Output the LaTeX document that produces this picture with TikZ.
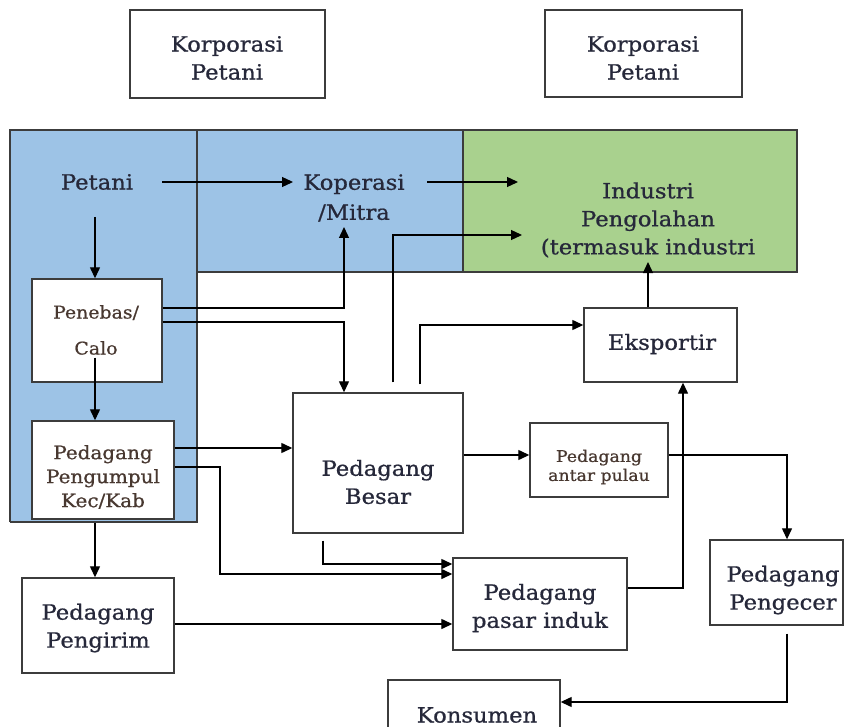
\documentclass[tikz,border=0pt]{standalone}
\usepackage{fontspec}
\setmainfont{DejaVu Serif}[FakeStretch=1.08, FakeBold=0.8]
\usetikzlibrary{arrows.meta}
\definecolor{bandblue}{RGB}{157,195,230}
\definecolor{bandgreen}{RGB}{169,209,142}
\definecolor{ink}{RGB}{38,40,58}
\definecolor{softink}{RGB}{72,56,48}
\definecolor{frame}{RGB}{60,60,60}
\tikzset{
  box/.style={draw=frame, line width=1.4pt, fill=white, inner sep=0pt},
  txt/.style={text=ink, align=center, inner sep=0pt},
  bigtxt/.style={txt, font=\fontsize{21}{28}\selectfont},
  smalltxt/.style={txt, text=softink, font=\fontsize{18.5}{24}\selectfont},
  arr/.style={draw=black, line width=1.3pt, -{Triangle[length=11pt,width=10pt]}},
}
\begin{document}
\begin{tikzpicture}[x=1pt,y=-1pt]
\useasboundingbox (0,0) rectangle (845,727);
\clip (0,0) rectangle (845,727);

% coloured bands
\fill[bandblue] (10,130) rectangle (197,522);
\fill[bandblue] (197,130) rectangle (463,272);
\fill[bandgreen] (463,130) rectangle (797,272);
\draw[frame, line width=1.8pt] (10,522) -- (10,130) -- (797,130) -- (797,272) -- (197,272);
\draw[frame, line width=1.8pt] (10,522) -- (197,522) -- (197,130);
\draw[frame, line width=1.8pt] (463,130) -- (463,272);

% boxes
\node[box, minimum width=195, minimum height=88] (kp1) at (227.5,54) {};
\node[box, minimum width=197, minimum height=87] (kp2) at (643.5,53.5) {};
\node[box, minimum width=130, minimum height=103] (penebas) at (97,330.5) {};
\node[box, minimum width=142, minimum height=98] (pengumpul) at (103,470) {};
\node[box, minimum width=152, minimum height=95] (pengirim) at (98,625.5) {};
\node[box, minimum width=170, minimum height=140] (besar) at (378,463) {};
\node[box, minimum width=138, minimum height=74] (antar) at (599,460) {};
\node[box, minimum width=153, minimum height=74] (ekspor) at (660.5,345) {};
\node[box, minimum width=174, minimum height=92] (pasar) at (540,604) {};
\node[box, minimum width=133, minimum height=85] (pengecer) at (776.5,582.5) {};
\node[box, minimum width=172, minimum height=70] (konsumen) at (474,715) {};

% texts
\node[bigtxt] (kp1T) at (227,58) {Korporasi\\Petani};
\node[bigtxt] (kp2T) at (643,58) {Korporasi\\Petani};
\node[bigtxt] (petaniT) at (97,182) {Petani};
\node[bigtxt, font=\fontsize{21}{30}\selectfont] (kopT) at (354,198) {Koperasi\\/Mitra};
\node[bigtxt] (indT) at (648,220) {Industri\\Pengolahan\\(termasuk industri};
\node[smalltxt, font=\fontsize{17.5}{36}\selectfont] (penebasT) at (96,330) {Penebas/\\Calo};
\node[smalltxt] (pengumpulT) at (103,477) {Pedagang\\Pengumpul\\Kec/Kab};
\node[bigtxt] (pengirimT) at (98,628) {Pedagang\\Pengirim};
\node[bigtxt] (besarT) at (378,482) {Pedagang\\Besar};
\node[smalltxt, font=\fontsize{16}{19}\selectfont] (antarT) at (599,467) {Pedagang\\antar pulau};
\node[bigtxt] (eksporT) at (662,344) {Eksportir};
\node[bigtxt] (pasarT) at (540,608) {Pedagang\\pasar induk};
\node[bigtxt] (pengecerT) at (783,590) {Pedagang\\Pengecer};
\node[bigtxt] (konsumenT) at (477,715) {Konsumen};

% connectors
\draw[arr] (petaniT -| 162,0) -- (petaniT -| 293,0);
\draw[arr] (petaniT -| 427,0) -- (petaniT -| 518,0);
\draw[arr] (besar.north -| 393,0) ++(0,-10) -- (393,235) -- (522,235);
\draw[arr] (95,217) -- (penebas.north -| 95,0);
\draw[arr] (penebas.east |- 0,308) -- (344,308) -- (344,227);
\draw[arr] (penebas.east |- 0,322) -- (344,322) -- (besar.north -| 344,0);
\draw[arr] (besar.north -| 420,0) ++(0,-8) -- (420,325) -- (ekspor.west |- 0,325);
\draw[arr] (ekspor.north -| 648,0) -- (648,262);
\draw[arr] (penebas.south -| 95,0) ++(0,-25) -- (pengumpul.north -| 95,0);
\draw[arr] (pengumpul.east |- 0,448) -- (besar.west |- 0,448);
\draw[arr] (pengumpul.east |- 0,467) -- (220,467) -- (220,574) -- (pasar.west |- 0,574);
\draw[arr] (pengumpul.south -| 95,0) ++(0,3) -- (pengirim.north -| 95,0);
\draw[arr] (pengirim.east |- 0,624) -- (pasar.west |- 0,624);
\draw[arr] (besar.south -| 323,0) ++(0,7) -- (323,564) -- (pasar.west |- 0,564);
\draw[arr] (besar.east |- 0,455) -- (antar.west |- 0,455);
\draw[arr] (pasar.east |- 0,588) -- (683,588) -- (ekspor.south -| 683,0);
\draw[arr] (antar.east |- 0,455) -- (787,455) -- (pengecer.north -| 787,0);
\draw[arr] (pengecer.south -| 787,0) ++(0,8) -- (787,702) -- (konsumen.east |- 0,702);
\end{tikzpicture}
\end{document}
